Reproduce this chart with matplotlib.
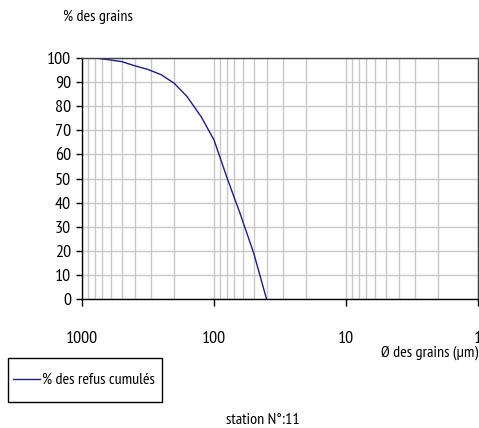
import matplotlib
matplotlib.use("Agg")
import matplotlib.pyplot as plt
import matplotlib.ticker as ticker
from matplotlib.patches import Rectangle
import numpy as np

plt.rcParams['font.family'] = ['PT Sans Narrow', 'DejaVu Sans']

# tamis (µm) et % des refus cumulés
diam = [800, 630, 500, 400, 315, 250, 200, 160, 125, 100, 80, 63, 50, 40]
refus = [100, 99.3, 98.5, 96.8, 95.2, 93, 89.5, 84, 75.6, 66, 50.6, 35, 19, 0]

W, H = 479, 428
fig = plt.figure(figsize=(W / 100, H / 100), dpi=100)
ax = fig.add_axes([82 / W, 1 - 299 / H, 396 / W, 241 / H])

ax.plot(diam, refus, color="#1c1c8e", linewidth=1.0, label="% des refus cumulés")

ax.set_xscale("log")
ax.set_xlim(1000, 1)
ax.set_ylim(0, 100)

ax.xaxis.set_major_locator(ticker.LogLocator(base=10))
ax.xaxis.set_minor_locator(ticker.LogLocator(base=10, subs=np.arange(2, 10)))
ax.xaxis.set_major_formatter(ticker.FuncFormatter(lambda v, p: "%g" % v))
ax.xaxis.set_minor_formatter(ticker.NullFormatter())
ax.yaxis.set_major_locator(ticker.MultipleLocator(10))

ax.grid(which="major", color="#c8c8c8", linewidth=1.0)
ax.grid(which="minor", axis="x", color="#c8c8c8", linewidth=1.0)
ax.set_axisbelow(True)

ax.tick_params(axis="x", which="major", direction="out", length=5, width=1,
               pad=18, labelsize=13)
ax.tick_params(axis="x", which="minor", length=0)
ax.tick_params(axis="y", direction="out", length=4, width=1, pad=4, labelsize=13)

for s in ax.spines.values():
    s.set_color("black")
    s.set_linewidth(1.0)
ax.spines["top"].set_color("#404040")
ax.spines["right"].set_color("#404040")

fig.text(63 / W, 1 - 17 / H, "% des grains", fontsize=11.5, ha="left", va="center")
fig.text(478 / W, 1 - 353 / H, "Ø des grains (µm)", fontsize=11.5, ha="right", va="center")
fig.text(263 / W, 1 - 420 / H, "station N°:11", fontsize=11.5, ha="center", va="center")

# cadre de la légende
fig.patches.append(Rectangle((8 / W, 1 - 402 / H), 154 / W, 44 / H,
                             transform=fig.transFigure, fill=False,
                             edgecolor="black", linewidth=1.0))
leg = fig.legend(loc="center left", bbox_to_anchor=(8 / W, 1 - 380 / H),
                 fontsize=11.5, frameon=False, handlelength=1.7,
                 handletextpad=0.1, borderpad=0.3, borderaxespad=0)

plt.savefig("out.png", dpi=100)
